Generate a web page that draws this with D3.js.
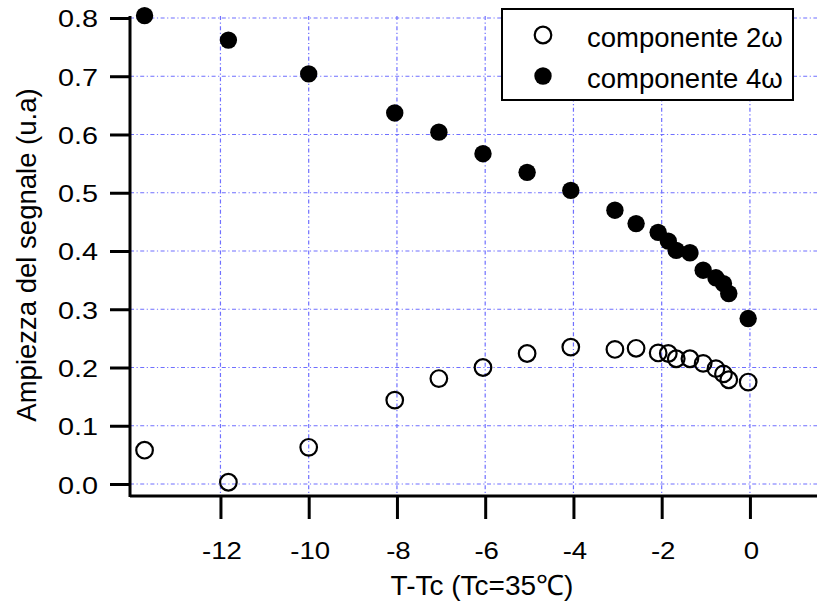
<!DOCTYPE html>
<html>
<head>
<meta charset="utf-8">
<script src="https://cdn.jsdelivr.net/npm/d3@7"></script>
<style>
  body { margin: 0; background: #fff; }
  svg { display: block; font-family: "Liberation Sans", Arial, sans-serif; }
</style>
</head>
<body>
<svg id="chart" width="817" height="603"></svg>
<script>
// T - Tc values (shared by both series)
const tempDiff = [-13.72, -11.82, -10.0, -8.05, -7.05, -6.05, -5.05, -4.06, -3.06, -2.58,
  -2.08, -1.85, -1.67, -1.36, -1.06, -0.77, -0.6, -0.48, -0.04];
const comp2w = [0.058, 0.003, 0.063, 0.144, 0.181, 0.200, 0.224, 0.235, 0.231, 0.233,
  0.225, 0.224, 0.215, 0.215, 0.207, 0.198, 0.189, 0.179, 0.175];
const comp4w = [0.804, 0.762, 0.704, 0.637, 0.604, 0.567, 0.535, 0.504, 0.470, 0.447,
  0.432, 0.417, 0.401, 0.397, 0.367, 0.354, 0.344, 0.327, 0.284];
const xTicks = [-12, -10, -8, -6, -4, -2, 0];
const yTicks = [0.0, 0.1, 0.2, 0.3, 0.4, 0.5, 0.6, 0.7, 0.8];
const legendLabels = ["componente 2\u03c9", "componente 4\u03c9"];

const svg = d3.select("#chart");

const x = d3.scaleLinear().domain([-14.05, 1.52]).range([130, 817]);
const y = d3.scaleLinear().domain([-0.0223, 0.8034]).range([497, 16]);

const gridColor = "#6f6fff";
const dash = "4,2.5,1.2,2.5";

// grid
const grid = svg.append("g");
grid.selectAll("line.h")
  .data(yTicks)
  .join("line")
  .attr("class", "h")
  .attr("x1", x.range()[0]).attr("x2", x.range()[1])
  .attr("y1", d => y(d)).attr("y2", d => y(d))
  .attr("stroke", gridColor).attr("stroke-width", 1.2)
  .attr("stroke-dasharray", dash);
grid.selectAll("line.v")
  .data(xTicks)
  .join("line")
  .attr("class", "v")
  .attr("x1", d => x(d)).attr("x2", d => x(d))
  .attr("y1", y.range()[1]).attr("y2", y.range()[0])
  .attr("stroke", gridColor).attr("stroke-width", 1.2)
  .attr("stroke-dasharray", dash);

// points
const pts2 = tempDiff.map((t, i) => ({ t, v: comp2w[i] }));
const pts4 = tempDiff.map((t, i) => ({ t, v: comp4w[i] }));

svg.append("g")
  .selectAll("circle")
  .data(pts2)
  .join("circle")
  .attr("cx", d => x(d.t)).attr("cy", d => y(d.v))
  .attr("r", 8.3)
  .attr("fill", "none")
  .attr("stroke", "#000")
  .attr("stroke-width", 2.2);

svg.append("g")
  .selectAll("circle")
  .data(pts4)
  .join("circle")
  .attr("cx", d => x(d.t)).attr("cy", d => y(d.v))
  .attr("r", 8.7)
  .attr("fill", "#000");

// axes
const xAxis = svg.append("g")
  .attr("transform", `translate(0,${y.range()[0] - 1})`)
  .call(d3.axisBottom(x).tickValues(xTicks).tickSize(23).tickFormat(d => String(d)));
const yAxis = svg.append("g")
  .attr("transform", `translate(${x.range()[0]},0)`)
  .call(d3.axisLeft(y).tickValues(yTicks).tickSize(20).tickFormat(d => d.toFixed(1)));

[xAxis, yAxis].forEach(g => {
  g.select(".domain").attr("stroke", "#000").attr("stroke-width", 3);
  g.selectAll(".tick line").attr("stroke", "#000").attr("stroke-width", 3);
  g.selectAll(".tick text")
    .attr("fill", "#000")
    .attr("font-size", 24)
    .attr("font-family", "'Liberation Sans', Arial, sans-serif");
});
// d3 draws the domain with outer ticks; drop them
xAxis.select(".domain").attr("d", `M${x.range()[0]},0H${x.range()[1]}`);
yAxis.select(".domain").attr("d", `M0,${y.range()[1]}V${y.range()[0]}`);

// wide digits like the original
xAxis.selectAll(".tick text")
  .attr("y", 0).attr("dy", 0)
  .attr("transform", "translate(1,63) scale(1.15,1)");
yAxis.selectAll(".tick text")
  .attr("x", 0).attr("dy", 0)
  .attr("text-anchor", "end")
  .attr("transform", "translate(-32,9) scale(1.2,1)");

// axis titles
svg.append("text")
  .attr("x", 482).attr("y", 595)
  .attr("text-anchor", "middle")
  .attr("font-size", 28)
  .text("T-Tc (Tc=35\u2103)");

svg.append("text")
  .attr("transform", "translate(36,255) rotate(-90)")
  .attr("text-anchor", "middle")
  .attr("font-size", 27.5)
  .text("Ampiezza del segnale (u.a)");

// legend
const legend = svg.append("g");
legend.append("rect")
  .attr("x", 502).attr("y", 9)
  .attr("width", 291).attr("height", 91)
  .attr("fill", "#fff")
  .attr("stroke", "#000")
  .attr("stroke-width", 2);

const rows = legend.selectAll("g.row")
  .data(legendLabels)
  .join("g")
  .attr("class", "row")
  .attr("transform", (d, i) => `translate(0,${35 + i * 41})`);

rows.append("circle")
  .attr("cx", 543).attr("cy", 0)
  .attr("r", (d, i) => i === 0 ? 8.3 : 8.7)
  .attr("fill", (d, i) => i === 0 ? "none" : "#000")
  .attr("stroke", (d, i) => i === 0 ? "#000" : "none")
  .attr("stroke-width", 2.2);

rows.append("text")
  .attr("x", 587).attr("y", 12)
  .attr("font-size", 27.5)
  .text(d => d);
</script>
</body>
</html>
